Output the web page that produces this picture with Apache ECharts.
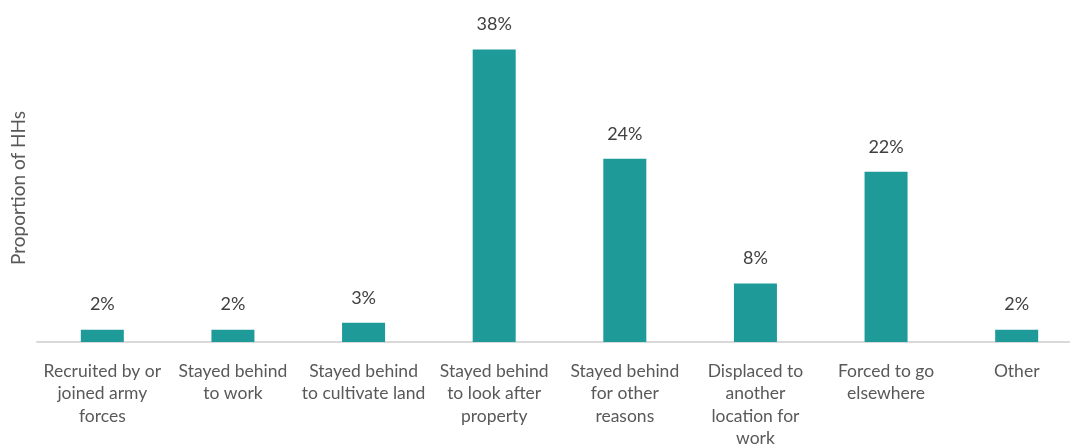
<!DOCTYPE html>
<html>
<head>
<meta charset="utf-8">
<script src="https://cdn.jsdelivr.net/npm/echarts@6/dist/echarts.min.js"></script>
<style>
  html, body { margin: 0; padding: 0; background: #fff; }
  #chart { width: 1070px; height: 446px; }
</style>
</head>
<body>
<div id="chart"></div>
<script>
// categories (line breaks as in the original)
const categories = [
  'Recruited by or\njoined army\nforces',
  'Stayed behind\nto work',
  'Stayed behind\nto cultivate land',
  'Stayed behind\nto look after\nproperty',
  'Stayed behind\nfor other\nreasons',
  'Displaced to\nanother\nlocation for\nwork',
  'Forced to go\nelsewhere',
  'Other'
];
// share of households, % (labels show rounded values)
const shares = [1.6, 1.6, 2.5, 38, 23.8, 7.6, 22.1, 1.6];

const chart = echarts.init(document.getElementById('chart'));

chart.setOption({
  animation: false,
  backgroundColor: '#fff',
  textStyle: { fontFamily: 'Lato, "Noto Sans", sans-serif' },
  grid: {
    left: 37,
    width: 1045,
    top: 34,
    bottom: 104,
    containLabel: false,
    outerBoundsMode: 'none'
  },
  xAxis: {
    type: 'category',
    data: categories,
    axisTick: { show: false },
    axisLine: { lineStyle: { color: '#d9d9d9', width: 2 } },
    axisLabel: {
      interval: 0,
      color: '#595959',
      fontSize: 17.5,
      lineHeight: 22.5,
      margin: 18
    }
  },
  yAxis: {
    type: 'value',
    min: 0,
    max: 40,
    name: 'Proportion of HHs',
    nameLocation: 'middle',
    nameGap: 9,
    nameTextStyle: { color: '#595959', fontSize: 19 },
    axisLabel: { show: false },
    axisTick: { show: false },
    axisLine: { show: false },
    splitLine: { show: false }
  },
  series: [
    {
      type: 'bar',
      data: shares,
      barWidth: 43,
      itemStyle: { color: '#1e9a98' },
      label: {
        show: true,
        position: 'top',
        distance: 16,
        color: '#404040',
        fontSize: 18,
        formatter: p => Math.round(p.value) + '%'
      }
    }
  ]
});
</script>
</body>
</html>
